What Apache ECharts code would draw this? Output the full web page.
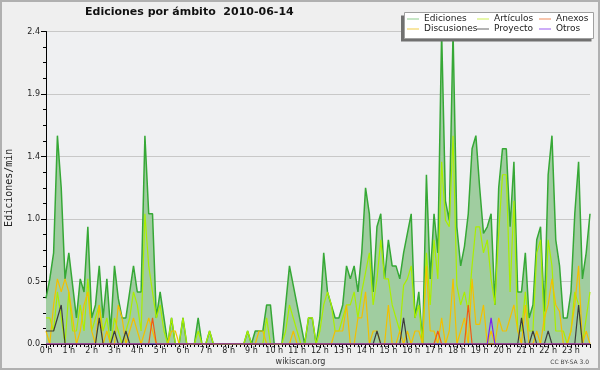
<!DOCTYPE html>
<html><head><meta charset="utf-8">
<script src="https://cdn.jsdelivr.net/npm/echarts@6/dist/echarts.min.js"></script>
<style>html,body{margin:0;padding:0;background:#efefef}#c{width:600px;height:370px}</style>
</head><body><div id="c"></div>
<script>
// 10-minute slots from 00:00 to 23:50 (edits per minute)
const slotsPerHour = 6;
const hourLabels = ['0 h','1 h','2 h','3 h','4 h','5 h','6 h','7 h','8 h','9 h','10 h','11 h',
  '12 h','13 h','14 h','15 h','16 h','17 h','18 h','19 h','20 h','21 h','22 h','23 h'];
const yTicks = [0, 0.48, 0.96, 1.44, 1.92, 2.4];

const ediciones = [
  0.35, 0.5, 0.7, 1.6, 1.2, 0.5, 0.7, 0.45, 0.2,
  0.5, 0.4, 0.9, 0.2, 0.3, 0.6, 0.2, 0.5, 0.1, 0.6,
  0.35, 0.2, 0.2, 0.4, 0.6, 0.4, 0.4, 1.6, 1.0, 1.0,
  0.2, 0.4, 0.2, 0.0, 0.2, 0.0, 0.0, 0.2, 0.0, 0.0,
  0.0, 0.2, 0.0, 0.0, 0.1, 0, 0, 0, 0, 0,
  0, 0, 0, 0, 0.1, 0, 0.1, 0.1, 0.1, 0.3,
  0.3, 0, 0, 0, 0.3, 0.6, 0.45, 0.3, 0.15, 0,
  0.2, 0.2, 0.0, 0.2, 0.7, 0.4, 0.3, 0.2, 0.2, 0.3,
  0.6, 0.5, 0.6, 0.4, 0.7, 1.2, 1.0, 0.4, 0.9, 1.0,
  0.5, 0.8, 0.6, 0.6, 0.5, 0.7, 0.85, 1.0, 0.2, 0.4,
  0.0, 1.3, 0.5, 1.0, 0.7, 2.4, 1.1, 0.95, 2.4, 0.9,
  0.6, 0.75, 1.0, 1.5, 1.6, 1.2, 0.85, 0.9, 1.0, 0.3,
  1.2, 1.5, 1.5, 0.9, 1.4, 0.4, 0.4, 0.7, 0.2, 0.3,
  0.8, 0.9, 0.25, 1.3, 1.6, 0.8, 0.6, 0.2, 0.2, 0.4,
  1.0, 1.4, 0.5, 0.7, 1.0
];
const articulos = [
  0.2, 0.2, 0.1, 0.4, 0.2, 0.0, 0.4, 0.1, 0.1,
  0.3, 0.1, 0.5, 0.1, 0.2, 0.3, 0.1, 0.2, 0.0, 0.2,
  0.1, 0.0, 0.1, 0.2, 0.4, 0.3, 0.1, 1.0, 0.6, 0.4,
  0.2, 0.3, 0.1, 0.0, 0.2, 0.0, 0.0, 0.2, 0.0, 0.0,
  0.0, 0.1, 0, 0, 0.1, 0, 0, 0, 0, 0,
  0, 0, 0, 0, 0.1, 0, 0, 0, 0, 0.2,
  0.0, 0, 0, 0, 0.1, 0.3, 0.2, 0.1, 0.0, 0,
  0.2, 0.2, 0.0, 0.1, 0.3, 0.4, 0.3, 0.1, 0.1, 0.2,
  0.3, 0.3, 0.4, 0.2, 0.4, 0.55, 0.7, 0.3, 0.5, 0.8,
  0.5, 0.5, 0.3, 0.2, 0.1, 0.45, 0.5, 0.6, 0.2, 0.3,
  0.0, 0.7, 0.3, 0.8, 0.5, 1.4, 0.95, 0.9, 1.6, 0.45,
  0.3, 0.4, 0.25, 0.6, 0.9, 0.9, 0.7, 0.8, 0.5, 0.3,
  0.85, 1.3, 1.3, 0.4, 1.1, 0.1, 0.1, 0.4, 0.1, 0.1,
  0.7, 0.8, 0.1, 0.8, 0.6, 0.1, 0.1, 0.1, 0.0, 0.1,
  0.4, 0.3, 0.0, 0.2, 0.4
];
const discusiones = [
  0.1, 0.0, 0.3, 0.5, 0.4, 0.5, 0.4, 0.2, 0.0,
  0.1, 0.3, 0.4, 0.1, 0.0, 0.3, 0.0, 0.1, 0.0, 0.0,
  0.3, 0.2, 0.0, 0.1, 0.2, 0.1, 0.0, 0.1, 0.2, 0.1,
  0.0, 0.0, 0.0, 0.0, 0.1, 0.1, 0, 0, 0, 0,
  0, 0, 0, 0, 0, 0, 0, 0, 0, 0,
  0, 0, 0, 0, 0, 0, 0, 0.1, 0.1, 0,
  0, 0, 0, 0, 0, 0, 0.1, 0, 0, 0,
  0, 0, 0, 0, 0, 0, 0, 0.1, 0.1, 0.1,
  0.3, 0.0, 0.0, 0.2, 0.2, 0.4, 0.0, 0.1, 0.1, 0.0,
  0.0, 0.3, 0.0, 0.0, 0.1, 0.0, 0.1, 0.0, 0.1, 0.1,
  0.0, 0.6, 0.1, 0.1, 0.0, 0.2, 0.0, 0.1, 0.5, 0.0,
  0.1, 0.2, 0.0, 0.5, 0.15, 0.15, 0.3, 0.0, 0.1, 0.0,
  0.2, 0.1, 0.1, 0.2, 0.3, 0.1, 0.0, 0.3, 0.0, 0.0,
  0.1, 0.0, 0.2, 0.3, 0.5, 0.3, 0.25, 0.0, 0.0, 0.1,
  0.3, 0.6, 0.0, 0.1, 0.0
];
const proyecto = [
  0.1, 0.1, 0.1, 0.2, 0.3, 0, 0, 0, 0, 0, 0, 0,
  0, 0, 0.2, 0, 0, 0, 0.1, 0, 0, 0.1, 0, 0,
  0, 0, 0, 0, 0, 0, 0, 0, 0, 0, 0, 0,
  0, 0, 0, 0, 0, 0, 0, 0, 0, 0, 0, 0,
  0, 0, 0, 0, 0, 0, 0, 0, 0, 0, 0, 0,
  0, 0, 0, 0, 0, 0, 0, 0, 0, 0, 0, 0,
  0, 0, 0, 0, 0, 0, 0, 0, 0, 0, 0, 0,
  0, 0, 0, 0.1, 0, 0, 0, 0, 0, 0, 0.2, 0,
  0, 0, 0, 0, 0, 0, 0, 0, 0, 0, 0, 0,
  0, 0, 0, 0, 0, 0, 0, 0, 0, 0, 0, 0,
  0, 0, 0, 0, 0, 0.2, 0, 0, 0.1, 0, 0, 0,
  0.1, 0, 0, 0, 0, 0, 0, 0, 0.3, 0, 0, 0
];
const anexos = [
  0, 0, 0, 0, 0, 0, 0, 0, 0, 0, 0, 0,
  0, 0, 0, 0, 0, 0, 0, 0, 0, 0, 0, 0,
  0, 0, 0, 0, 0.2, 0, 0, 0, 0, 0, 0, 0,
  0, 0, 0, 0, 0, 0, 0, 0, 0, 0, 0, 0,
  0, 0, 0, 0, 0, 0, 0, 0, 0, 0, 0, 0,
  0, 0, 0, 0, 0, 0, 0, 0, 0, 0, 0, 0,
  0, 0, 0, 0, 0, 0, 0, 0, 0, 0, 0, 0,
  0, 0, 0, 0, 0, 0, 0, 0, 0, 0, 0, 0,
  0, 0, 0, 0, 0, 0, 0, 0.1, 0, 0, 0, 0,
  0, 0, 0, 0.3, 0, 0, 0, 0, 0, 0, 0, 0,
  0, 0, 0, 0, 0, 0, 0, 0, 0, 0, 0, 0,
  0, 0, 0, 0, 0, 0, 0, 0, 0, 0, 0, 0
];
const otros = [
  0, 0, 0, 0, 0, 0, 0, 0, 0, 0, 0, 0,
  0, 0, 0, 0, 0, 0, 0, 0, 0, 0, 0, 0,
  0, 0, 0, 0, 0, 0, 0, 0, 0, 0, 0, 0,
  0, 0, 0, 0, 0, 0, 0, 0, 0, 0, 0, 0,
  0, 0, 0, 0, 0, 0, 0, 0, 0, 0, 0, 0,
  0, 0, 0, 0, 0, 0, 0, 0, 0, 0, 0, 0,
  0, 0, 0, 0, 0, 0, 0, 0, 0, 0, 0, 0,
  0, 0, 0, 0, 0, 0, 0, 0, 0, 0, 0, 0,
  0, 0, 0, 0, 0, 0, 0, 0, 0, 0, 0, 0,
  0, 0, 0, 0, 0, 0, 0, 0, 0, 0.2, 0, 0,
  0, 0, 0, 0, 0, 0, 0, 0, 0, 0, 0, 0,
  0, 0, 0, 0, 0, 0, 0, 0, 0, 0, 0, 0
];

const lineColors = {
  'Ediciones': '#36a836', 'Artículos': '#aaee00', 'Anexos': '#f05a14',
  'Discusiones': '#f2c000', 'Proyecto': '#3c3c3c', 'Otros': '#7a22f0'
};
const legendColors = {
  'Ediciones': '#8ccc8c', 'Artículos': '#ccee55', 'Anexos': '#ee8a5a',
  'Discusiones': '#f0cc44', 'Proyecto': '#666666', 'Otros': '#9a5af0'
};

function pairs(arr) { return arr.map((v, i) => [i / slotsPerHour, v]); }
const xMax = (ediciones.length - 1) / slotsPerHour;

const font = 'DejaVu Sans';
function legendBlock(names, left) {
  return {
    orient: 'vertical', left: left, top: 14, z: 100, padding: 0,
    itemGap: 0, itemWidth: 12, itemHeight: 1, icon: 'rect',
    textStyle: { fontFamily: font, fontSize: 9, color: '#222', lineHeight: 10 },
    data: names.map(n => ({ name: n, icon: 'rect', itemStyle: { color: legendColors[n] } }))
  };
}

function lineSeries(name, arr, width, z) {
  return {
    name: name, type: 'line', data: pairs(arr), symbol: 'none', z: z,
    lineStyle: { color: lineColors[name], width: width },
    itemStyle: { color: lineColors[name] }, silent: true
  };
}

const chart = echarts.init(document.getElementById('c'), null, { renderer: 'canvas' });
chart.setOption({
  animation: false,
  backgroundColor: '#efefef',
  title: {
    text: 'Ediciones por ámbito  2010-06-14', left: 85, top: 7, padding: 0,
    textStyle: { fontFamily: font, fontSize: 11, fontWeight: 'bold', color: '#111' }
  },
  legend: [
    legendBlock(['Ediciones', 'Discusiones'], 407),
    legendBlock(['Artículos', 'Proyecto'], 477),
    legendBlock(['Anexos', 'Otros'], 539)
  ],
  grid: { left: 46, right: 10, top: 31.5, bottom: 26, containLabel: false, outerBoundsMode: 'none',
    show: true, backgroundColor: '#eff0f2', borderWidth: 0 },
  xAxis: {
    type: 'value', min: 0, max: xMax, interval: 1,
    axisLine: { show: true, lineStyle: { color: '#000', width: 1 } },
    axisTick: { show: true, length: 4, lineStyle: { color: '#000' } },
    minorTick: { show: true, splitNumber: 6, length: 3, lineStyle: { color: '#000' } },
    splitLine: { show: false },
    axisLabel: {
      fontFamily: font, fontSize: 8, color: '#222', margin: 3,
      formatter: v => (Number.isInteger(v) && v < hourLabels.length) ? hourLabels[v] : '',
      showMaxLabel: false
    }
  },
  yAxis: {
    type: 'value', min: yTicks[0], max: yTicks[yTicks.length - 1], interval: yTicks[1],
    name: 'Ediciones/min', nameLocation: 'middle', nameGap: 32,
    nameTextStyle: { fontFamily: 'DejaVu Sans Mono', fontSize: 10, color: '#222' },
    axisLine: { show: true, lineStyle: { color: '#000', width: 1 } },
    axisTick: { show: true, length: 5, lineStyle: { color: '#000' } },
    minorTick: { show: true, splitNumber: 4, length: 3, lineStyle: { color: '#000' } },
    splitLine: { show: true, lineStyle: { color: '#c8c8c8', width: 1 } },
    axisLabel: { fontFamily: font, fontSize: 8, color: '#222', margin: 6, formatter: v => v.toFixed(1) }
  },
  series: [
    Object.assign(lineSeries('Ediciones', ediciones, 1.5, 2), {
      areaStyle: { color: '#a0cda0', opacity: 1 }
    }),
    lineSeries('Artículos', articulos, 1.2, 3),
    lineSeries('Discusiones', discusiones, 1.2, 4),
    lineSeries('Proyecto', proyecto, 1.2, 5),
    lineSeries('Anexos', anexos, 1.2, 6),
    lineSeries('Otros', otros, 1.2, 7)
  ],
  graphic: [
    { type: 'rect', z: 90, shape: { x: 401, y: 15.5, width: 190.5, height: 26 }, style: { fill: '#707070' }, silent: true },
    { type: 'rect', z: 91, shape: { x: 404.5, y: 12.5, width: 189, height: 26 }, style: { fill: '#ffffff', stroke: '#a0a0a0', lineWidth: 1 }, silent: true },
    { type: 'text', z: 95, style: { text: 'wikiscan.org', x: 300.5, y: 361.5, align: 'center', verticalAlign: 'middle', font: '8px "DejaVu Sans"', fill: '#333' }, silent: true },
    { type: 'text', z: 95, style: { text: 'CC BY-SA 3.0', x: 589, y: 362.5, align: 'right', verticalAlign: 'middle', font: '6px "DejaVu Sans"', fill: '#444' }, silent: true },
    { type: 'rect', z: 99, shape: { x: 1, y: 1, width: 598, height: 368 }, style: { fill: 'none', stroke: '#b0b0b0', lineWidth: 2 }, silent: true }
  ]
});
</script>
</body></html>
